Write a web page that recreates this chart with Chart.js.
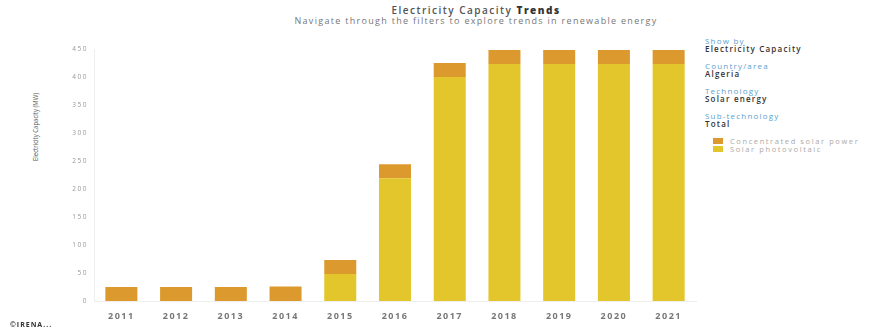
<!DOCTYPE html>
<html>
<head>
<meta charset="utf-8">
<script src="https://cdn.jsdelivr.net/npm/chart.js@4"></script>
<style>
	body { margin:0; width:884px; height:333px; background:#fff; font-family:"Open Sans", sans-serif; overflow:hidden; }
	#wrap { position:absolute; left:0; top:30px; width:700px; height:291px; }
	#chart { letter-spacing:1.5px; }
	.title { position:absolute; left:0; width:952px; top:3px; text-align:center; font-size:10px; font-weight:600; color:#555; letter-spacing:1.5px; }
	.title b { color:#333; font-weight:800; }
	.sub { position:absolute; left:0; width:952px; top:14px; text-align:center; font-size:9px; color:#777; letter-spacing:1.3px; }
	.ytitle { position:absolute; left:35px; top:127px; transform:translate(-50%,-50%) rotate(-90deg) scaleY(1.3); font-size:6px; color:#555; white-space:nowrap; }
	#panel { position:absolute; left:705px; top:37px; font-size:8px; letter-spacing:1.2px; line-height:8px; }
	#panel .lab { color:#5aa3cf; }
	#panel .val { color:#333; font-weight:600; margin-bottom:9px; }
	#legend .row { display:flex; align-items:center; height:8px; margin-left:8px; color:#aaa; font-size:7.5px; letter-spacing:1.6px; }
	#legend .sw { width:10px; height:6px; margin-right:7px; }
	.foot { position:absolute; left:10px; top:320px; font-size:7px; font-weight:bold; color:#333; letter-spacing:1px; }
</style>
</head>
<body>
<div class="title">Electricity Capacity <b>Trends</b></div>
<div class="sub">Navigate through the filters to explore trends in renewable energy</div>
<div class="ytitle">Electricity Capacity (MW)</div>
<div id="wrap"><canvas id="chart"></canvas></div>
<div id="panel"></div>
<div class="foot">©IRENA...</div>
<script>
const years = ['2011','2012','2013','2014','2015','2016','2017','2018','2019','2020','2021'];
const solarPV = [0, 0, 0, 0, 48, 219, 400, 423, 423, 423, 423];
const csp = [25, 25, 25, 26, 25, 25, 25, 25, 25, 25, 25];
const yTicks = [0, 50, 100, 150, 200, 250, 300, 350, 400, 450];
const filters = [
	['Show by', 'Electricity Capacity'],
	['Country/area', 'Algeria'],
	['Technology', 'Solar energy'],
	['Sub-technology', 'Total']
];

const datasets = [
	{ label:'Solar photovoltaic', data:solarPV, backgroundColor:'#e3c62b' },
	{ label:'Concentrated solar power', data:csp, backgroundColor:'#dc9a2e' }
];

// side panel: filters + legend
const panel = document.getElementById( 'panel' );
panel.innerHTML = filters.map( f => `<div class="lab">${f[0]}</div><div class="val">${f[1]}</div>` ).join('')
	+ '<div id="legend">'
	+ datasets.slice().reverse().map( d => `<div class="row"><span class="sw" style="background:${d.backgroundColor}"></span>${d.label}</div>` ).join('')
	+ '</div>';

new Chart( document.getElementById( 'chart' ), {
	type: 'bar',
	data: { labels: years, datasets: datasets },
	options: {
		responsive: true,
		maintainAspectRatio: false,
		animation: false,
		layout: { padding: { top: 19, right: 4, left: 0, bottom: 0 } },
		datasets: { bar: { categoryPercentage: 1, barPercentage: 0.585 } },
		plugins: { legend: { display: false }, tooltip: { enabled: false } },
		scales: {
			x: {
				stacked: true,
				grid: { display: false },
				border: { color: '#eee' },
				ticks: { color: '#777', font: { family: 'Open Sans', size: 9, weight: 'bold' }, padding: 2 },
				afterFit: s => { s.height = 20; }
			},
			y: {
				stacked: true,
				min: 0,
				max: 450,
				afterBuildTicks: s => { s.ticks = yTicks.map( v => ({ value: v }) ); },
				grid: { display: false, drawTicks: false },
				border: { color: '#eee' },
				ticks: { color: '#999', font: { family: 'Open Sans', size: 6.5 }, padding: 6 },
				afterFit: s => { s.width = 94; }
			}
		}
	}
});
</script>
</body>
</html>
